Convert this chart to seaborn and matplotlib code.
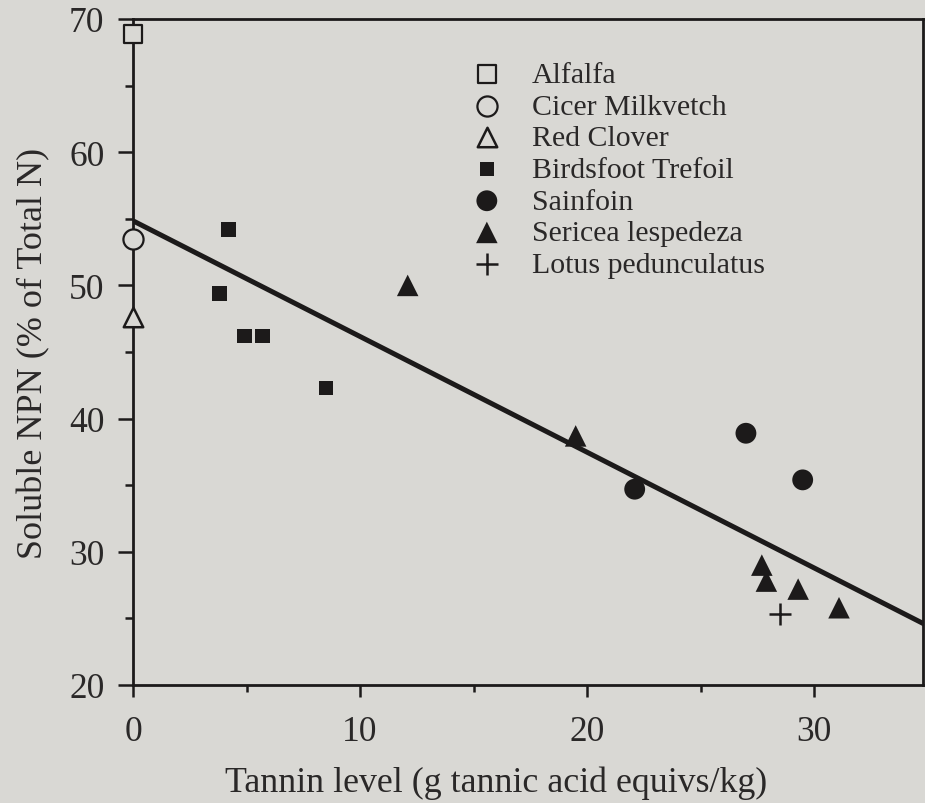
import matplotlib
matplotlib.use("Agg")
import matplotlib.pyplot as plt
import seaborn as sns
import pandas as pd
from matplotlib.ticker import MultipleLocator

# ---- data ----
species = ["Alfalfa", "Cicer Milkvetch", "Red Clover", "Birdsfoot Trefoil",
           "Sainfoin", "Sericea lespedeza", "Lotus pedunculatus"]
alfalfa_x = [0.0]
alfalfa_y = [68.9]
cicer_x = [0.0]
cicer_y = [53.5]
redclover_x = [0.0]
redclover_y = [47.6]
birdsfoot_x = [4.2, 3.8, 4.9, 5.7, 8.5]
birdsfoot_y = [54.2, 49.4, 46.2, 46.2, 42.3]
sainfoin_x = [22.1, 27.0, 29.5]
sainfoin_y = [34.7, 38.9, 35.4]
sericea_x = [12.1, 19.5, 27.7, 27.9, 29.3, 31.1]
sericea_y = [50.0, 38.7, 29.0, 27.8, 27.2, 25.8]
lotus_x = [28.5]
lotus_y = [25.3]
fit_x = [0.0, 35.0]
fit_y = [54.85, 24.45]

xticks = [0, 10, 20, 30]
yticks = [20, 30, 40, 50, 60, 70]
xlabel = "Tannin level (g tannic acid equivs/kg)"
ylabel = "Soluble NPN (% of Total N)"

# ---- style ----
bg = "#d9d8d4"
ink = "#1c1a1a"
txt = "#2a2828"
sns.set_style("ticks")
plt.rcParams["font.family"] = ["Liberation Serif", "DejaVu Serif"]

fig = plt.figure(figsize=(9.25, 8.04), dpi=100, facecolor=bg)
W, H = 925, 804
ax = fig.add_axes([133 / W, (H - 686) / H, 790 / W, 666 / H])
ax.set_facecolor(bg)

xs = [alfalfa_x, cicer_x, redclover_x, birdsfoot_x, sainfoin_x, sericea_x, lotus_x]
ys = [alfalfa_y, cicer_y, redclover_y, birdsfoot_y, sainfoin_y, sericea_y, lotus_y]
markers = ["s", "o", "^", "s", "o", "^", "+"]
msizes = [13.5, 14.5, 14.0, 10.5, 15.0, 15.5, 15.5]
filled = [False, False, False, True, True, True, True]
lws = [1.6, 1.6, 1.8, 0, 0, 0, 1.8]

sns.lineplot(x=fit_x, y=fit_y, ax=ax, color=ink, lw=3.6, zorder=3)

handles = []
for name, x, y, m, ms, f, lw in zip(species, xs, ys, markers, msizes, filled, lws):
    df = pd.DataFrame({"x": x, "y": y})
    if m == "+":
        kw = dict(color=ink, linewidth=lw)
    elif f:
        kw = dict(color=ink, edgecolor="none", linewidth=0)
    else:
        kw = dict(facecolor=bg, edgecolor=ink, linewidth=lw)
    sns.scatterplot(data=df, x="x", y="y", ax=ax, marker=m, s=ms ** 2,
                    clip_on=False, zorder=5, legend=False, **kw)
    h = ax.scatter([], [], marker=m, s=ms ** 2, label=name, **kw)
    handles.append(h)

ax.set_xlim(0, 34.8)
ax.set_ylim(20, 70)
ax.set_xticks(xticks)
ax.set_yticks(yticks)
ax.xaxis.set_minor_locator(MultipleLocator(5))
ax.yaxis.set_minor_locator(MultipleLocator(5))
for s in ax.spines.values():
    s.set_linewidth(2.0)
    s.set_color(ink)
ax.tick_params(axis="y", which="major", length=10.5, width=1.8, pad=10,
               labelsize=25.5, colors=ink, direction="out")
ax.tick_params(axis="y", which="minor", length=6, width=1.8, direction="out", colors=ink)
ax.tick_params(axis="x", which="major", length=8.5, width=1.8, pad=13,
               labelsize=25.5, colors=ink, direction="out")
ax.tick_params(axis="x", which="minor", length=5, width=1.8, direction="out", colors=ink)
for lab in ax.get_xticklabels() + ax.get_yticklabels():
    lab.set_color(txt)

ax.set_xlabel(xlabel, fontsize=25.8, color=txt)
ax.set_ylabel(ylabel, fontsize=26, color=txt)
ax.xaxis.set_label_coords((496 - 133) / 790, -(792 - 686) / 666)
ax.xaxis.label.set_va("baseline")
ax.yaxis.set_label_coords(-(133 - 42) / 790, 0.5)
ax.yaxis.label.set_va("baseline")

leg = ax.legend(handles=handles, loc="upper left", bbox_to_anchor=(0.429, 0.937),
                frameon=False, fontsize=21.5, handlelength=1.0, handletextpad=1.0,
                labelspacing=0.16, borderaxespad=0, borderpad=0)
for t in leg.get_texts():
    t.set_color(txt)

fig.savefig("out.png", dpi=100, facecolor=bg)
